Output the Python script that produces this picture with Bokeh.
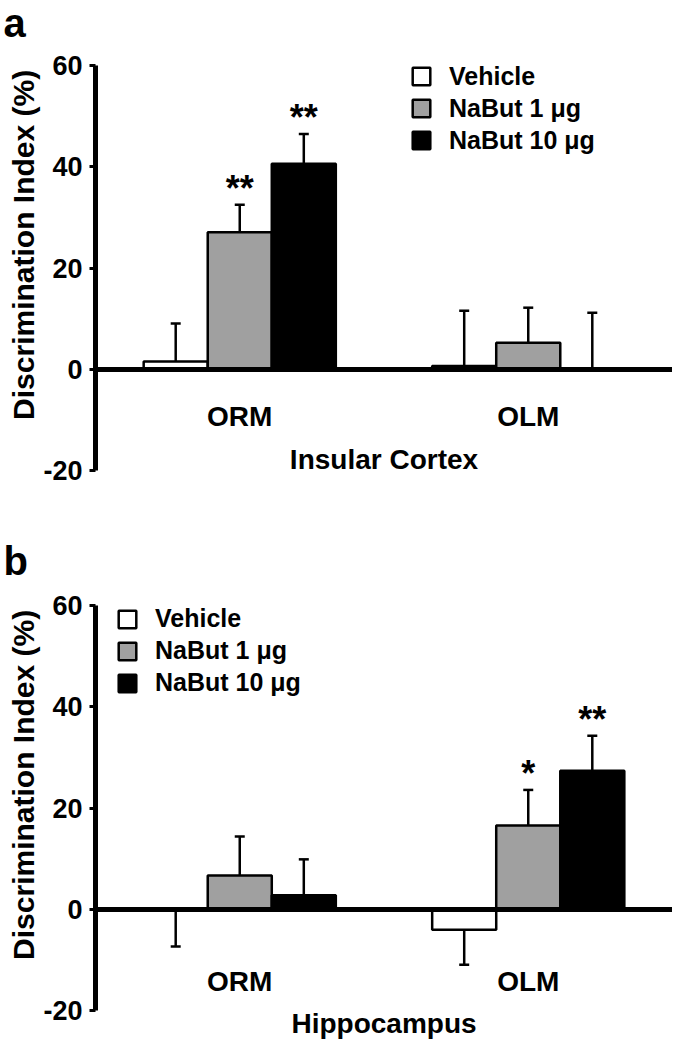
import math
from bokeh.plotting import figure
from bokeh.models import (Range1d, FixedTicker, Whisker, TeeHead,
                          ColumnDataSource, Legend, LegendItem, Label)
from bokeh.layouts import column
from bokeh.core.properties import value
from bokeh.embed import file_html
from bokeh.resources import INLINE

# ---------------- data ----------------
categories = ["ORM", "OLM"]
series = ["Vehicle", "NaBut 1 \u03bcg", "NaBut 10 \u03bcg"]
ticks = [-20, 0, 20, 40, 60]

# Panel a: Insular Cortex (mean, SEM)
a_vehicle = [1.6, 0.7]
a_vehicle_sem = [7.5, 10.9]
a_nabut1 = [27.1, 5.3]
a_nabut1_sem = [5.4, 6.9]
a_nabut10 = [40.6, 0.0]
a_nabut10_sem = [5.9, 11.2]
a_stars = [["", ""], ["**", ""], ["**", ""]]

# Panel b: Hippocampus (mean, SEM)
b_vehicle = [-0.1, -4.0]
b_vehicle_sem = [7.2, 6.9]
b_nabut1 = [6.7, 16.6]
b_nabut1_sem = [7.7, 7.0]
b_nabut10 = [2.8, 27.4]
b_nabut10_sem = [7.1, 6.9]
b_stars = [["", ""], ["", "*"], ["", "**"]]

# ---------------- style / layout ----------------
FONT = "Liberation Sans"
COLORS = ["white", "#a0a0a0", "black"]
OFFSETS = [-0.222, 0.0, 0.222]
BAR_W = 0.222
W = 672
PX_PER_CAT = 288.5          # pixels per category unit
PX_PER_UNIT = 304 / 60.0    # pixels per y unit
AXIS_X_PX = 95              # where the y axis sits
CAT_POS = [i + 1 for i in range(len(categories))]
LEGEND_H = 93


def make_panel(letter, region, means, sems, stars, height, zero_px, letter_base,
               legend_left, legend_top, x_label_standoff, x_axis_label_standoff):
    y_end = zero_px / PX_PER_UNIT
    y_start = -(height - zero_px) / PX_PER_UNIT
    x_start = 0.5 - AXIS_X_PX / PX_PER_CAT
    x_end = x_start + W / PX_PER_CAT
    p = figure(width=W, height=height,
               x_range=Range1d(x_start, x_end), y_range=Range1d(y_start, y_end),
               output_backend="svg", toolbar_location=None,
               min_border_left=0, min_border_right=0,
               min_border_top=0, min_border_bottom=0)
    p.outline_line_color = None
    p.grid.visible = False
    p.background_fill_color = "white"

    items = []
    for i, name in enumerate(series):
        m = means[i]
        s = sems[i]
        xs = [c + OFFSETS[i] for c in CAT_POS]
        tip = [mm + ss if mm >= 0 else mm - ss for mm, ss in zip(m, s)]
        src = ColumnDataSource(dict(x=xs, mean=m, tip=tip, star=stars[i]))
        r = p.vbar(x="x", top="mean", bottom=0, width=BAR_W, fill_color=COLORS[i],
                   line_color="black", line_width=2.5, source=src)
        items.append(LegendItem(label=name, renderers=[r]))

        up_idx = [k for k in range(len(m)) if m[k] >= 0]
        dn_idx = [k for k in range(len(m)) if m[k] < 0]
        if up_idx:
            su = ColumnDataSource(dict(x=[xs[k] for k in up_idx],
                                       lo=[m[k] for k in up_idx],
                                       hi=[tip[k] for k in up_idx]))
            p.add_layout(Whisker(base="x", lower="lo", upper="hi", source=su,
                                 line_width=2.5, line_color="black",
                                 upper_head=TeeHead(size=10, line_width=2.5, line_color="black"),
                                 lower_head=None))
        if dn_idx:
            sd = ColumnDataSource(dict(x=[xs[k] for k in dn_idx],
                                       lo=[tip[k] for k in dn_idx],
                                       hi=[m[k] for k in dn_idx]))
            p.add_layout(Whisker(base="x", lower="lo", upper="hi", source=sd,
                                 line_width=2.5, line_color="black",
                                 lower_head=TeeHead(size=10, line_width=2.5, line_color="black"),
                                 upper_head=None))

        p.text(x="x", y="tip", text="star", source=src,
               text_font=value(FONT), text_font_style="bold", text_font_size="36px",
               text_align="center", text_baseline="alphabetic", text_color="black",
               y_offset=-16)

    # x axis drawn along y = 0
    xa = p.xaxis[0]
    xa.fixed_location = 0
    xa.bounds = (0.5, x_end)
    xa.ticker = FixedTicker(ticks=CAT_POS)
    xa.major_label_overrides = {c: n for c, n in zip(CAT_POS, categories)}
    xa.axis_line_width = 5
    xa.axis_line_color = "black"
    xa.major_tick_line_color = None
    xa.major_tick_out = 0
    xa.major_tick_in = 0
    xa.minor_tick_line_color = None
    xa.major_label_text_font = FONT
    xa.major_label_text_font_style = "bold"
    xa.major_label_text_font_size = "28px"
    xa.major_label_text_color = "black"
    xa.major_label_standoff = x_label_standoff
    xa.axis_label = region
    xa.axis_label_text_font = FONT
    xa.axis_label_text_font_style = "bold"
    xa.axis_label_text_font_size = "28px"
    xa.axis_label_text_color = "black"
    xa.axis_label_standoff = x_axis_label_standoff

    # y axis drawn at the left edge of the first category
    ya = p.yaxis[0]
    ya.fixed_location = 0.5
    ya.ticker = FixedTicker(ticks=ticks)
    ya.major_label_overrides = {t: str(t) for t in ticks}
    ya.bounds = (-20, 60)
    ya.axis_line_width = 5
    ya.axis_line_color = "black"
    ya.major_tick_out = 6
    ya.major_tick_in = 0
    ya.major_tick_line_width = 3
    ya.minor_tick_line_color = None
    ya.major_label_text_font = FONT
    ya.major_label_text_font_style = "bold"
    ya.major_label_text_font_size = "27px"
    ya.major_label_text_color = "black"
    ya.major_label_standoff = 7

    p.add_layout(Label(x=22.5, y=24.6, x_units="screen", y_units="data",
                       text="Discrimination Index (%)", angle=math.pi / 2,
                       text_align="center", text_baseline="middle",
                       text_font=FONT, text_font_style="bold", text_font_size="30px",
                       text_color="black"))
    p.add_layout(Label(x=3, y=height - letter_base, x_units="screen",
                       y_units="screen", text=letter, text_align="left",
                       text_baseline="alphabetic",
                       text_font=FONT, text_font_style="bold", text_font_size="40px",
                       text_color="black"))

    legend = Legend(items=items, location=(legend_left, height - legend_top - LEGEND_H),
                    orientation="vertical",
                    glyph_width=22, glyph_height=22, label_standoff=17,
                    spacing=3, padding=0, margin=0,
                    border_line_color=None, background_fill_alpha=0,
                    label_text_font=FONT, label_text_font_style="bold",
                    label_text_font_size="25px", label_text_color="black")
    p.add_layout(legend)
    return p


pa = make_panel("a", "Insular Cortex",
                [a_vehicle, a_nabut1, a_nabut10],
                [a_vehicle_sem, a_nabut1_sem, a_nabut10_sem],
                a_stars, 536, 369, 22, 410, 61.5, 31, 9)
pb = make_panel("b", "Hippocampus",
                [b_vehicle, b_nabut1, b_nabut10],
                [b_vehicle_sem, b_nabut1_sem, b_nabut10_sem],
                b_stars, 512, 373, 24, 116, 68, 56, 8)

layout = column(pa, pb, spacing=0)
open("out.html", "w").write(file_html(layout, INLINE))
